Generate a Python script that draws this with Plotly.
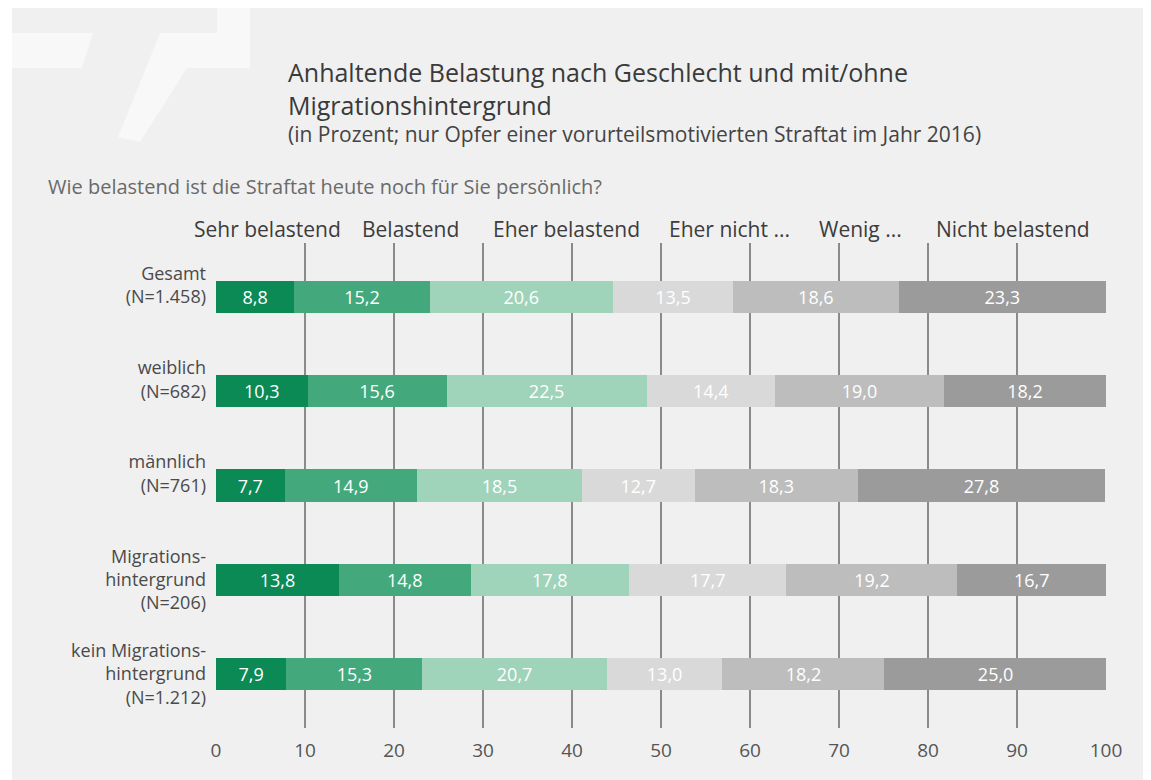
import plotly.graph_objects as go

categories = ["Gesamt<br>(N=1.458)<br> ", "weiblich<br>(N=682)<br> ", "männlich<br>(N=761)<br> ",
              "Migrations-<br>hintergrund<br>(N=206)", "kein Migrations-<br>hintergrund<br>(N=1.212)"]
series_names = ["Sehr belastend", "Belastend", "Eher belastend", "Eher nicht ...", "Wenig ...", "Nicht belastend"]
sehr_belastend = [8.8, 10.3, 7.7, 13.8, 7.9]
belastend = [15.2, 15.6, 14.9, 14.8, 15.3]
eher_belastend = [20.6, 22.5, 18.5, 17.8, 20.7]
eher_nicht = [13.5, 14.4, 12.7, 17.7, 13.0]
wenig = [18.6, 19.0, 18.3, 19.2, 18.2]
nicht_belastend = [23.3, 18.2, 27.8, 16.7, 25.0]
x_ticks = [0, 10, 20, 30, 40, 50, 60, 70, 80, 90, 100]

series_values = [sehr_belastend, belastend, eher_belastend, eher_nicht, wenig, nicht_belastend]
colors = ["#0b8a56", "#43a97c", "#9fd3ba", "#d9d9d9", "#bdbdbd", "#9b9b9b"]

# page is rendered with an 8px body margin; work in page pixels and shift
OFF = 8
PW, PH = 1151, 780
W, H = PW - OFF, PH - OFF
L, R, T, B = 216, 1106, 243, 728  # plot area in page pixels
def X(px):
    return (px - L) / (R - L)
def Y(py):
    return (B - py) / (B - T)

FONT = "Open Sans"
fig = go.Figure()
for name, vals, col in zip(series_names, series_values, colors):
    fig.add_trace(go.Bar(
        y=categories, x=vals, name=name, orientation="h",
        marker=dict(color=col, line=dict(width=0)),
        width=0.34,
        texttemplate="%{x:.1f}", textposition="inside", insidetextanchor="middle",
        textfont=dict(color="white", size=18, family=FONT),
        hoverinfo="x+name",
    ))

annotations = []
legend_pos = [267, 410, 566, 729, 860, 1013]
for name, px in zip(series_names, legend_pos):
    annotations.append(dict(text=name, x=X(px), y=Y(229), xref="paper", yref="paper",
                            showarrow=False, xanchor="center", yanchor="middle",
                            font=dict(size=21, color="#3c3c3c", family=FONT)))
annotations.append(dict(text="Anhaltende Belastung nach Geschlecht und mit/ohne<br>Migrationshintergrund",
                        x=X(286), y=Y(88), xref="paper", yref="paper", showarrow=False,
                        xanchor="left", yanchor="middle", align="left",
                        font=dict(size=25, color="#3a3a3a", family=FONT)))
annotations.append(dict(text="(in Prozent; nur Opfer einer vorurteilsmotivierten Straftat im Jahr 2016)",
                        x=X(286), y=Y(134), xref="paper", yref="paper", showarrow=False,
                        xanchor="left", yanchor="middle", align="left",
                        font=dict(size=21, color="#444444", family=FONT)))
annotations.append(dict(text="Wie belastend ist die Straftat heute noch für Sie persönlich?",
                        x=X(46), y=Y(186), xref="paper", yref="paper", showarrow=False,
                        xanchor="left", yanchor="middle", align="left",
                        font=dict(size=20, color="#6a6a6a", family=FONT)))

def path(points):
    return "M " + " L ".join(f"{X(px)},{Y(py)}" for px, py in points) + " Z"

shapes = [
    dict(type="rect", xref="paper", yref="paper", x0=X(0), x1=X(12), y0=Y(0), y1=Y(PH),
         fillcolor="white", line=dict(width=0), layer="below"),
    dict(type="path", xref="paper", yref="paper",
         path=path([(12, 33), (93, 33), (82, 68), (12, 68)]),
         fillcolor="#f8f8f8", line=dict(width=0), layer="below"),
    dict(type="path", xref="paper", yref="paper",
         path=path([(217, 8), (250, 8), (250, 68), (187, 68), (140, 142), (118, 137), (160, 33), (217, 33)]),
         fillcolor="#f8f8f8", line=dict(width=0), layer="below"),
]

fig.update_layout(
    width=W, height=H,
    margin=dict(l=L - OFF, r=PW - R, t=T - OFF, b=PH - B, pad=0),
    barmode="stack",
    separators=",.",
    showlegend=False,
    paper_bgcolor="#f0f0f0", plot_bgcolor="#f0f0f0",
    font=dict(family=FONT, color="#4a4a4a"),
    annotations=annotations, shapes=shapes,
    xaxis=dict(range=[0, 100], tickvals=x_ticks, showgrid=True, gridcolor="#8a8a8a", gridwidth=1.5,
               zeroline=False, showline=False, ticks="", ticklabelstandoff=9,
               tickfont=dict(size=19, color="#555555", family=FONT), fixedrange=True),
    yaxis=dict(range=[4.574, -0.574], showgrid=False, zeroline=False, showline=False, ticks="",
               ticklabelstandoff=9, tickfont=dict(size=18, color="#4a4a4a", family=FONT)),
)

fig.write_html("out.html")
